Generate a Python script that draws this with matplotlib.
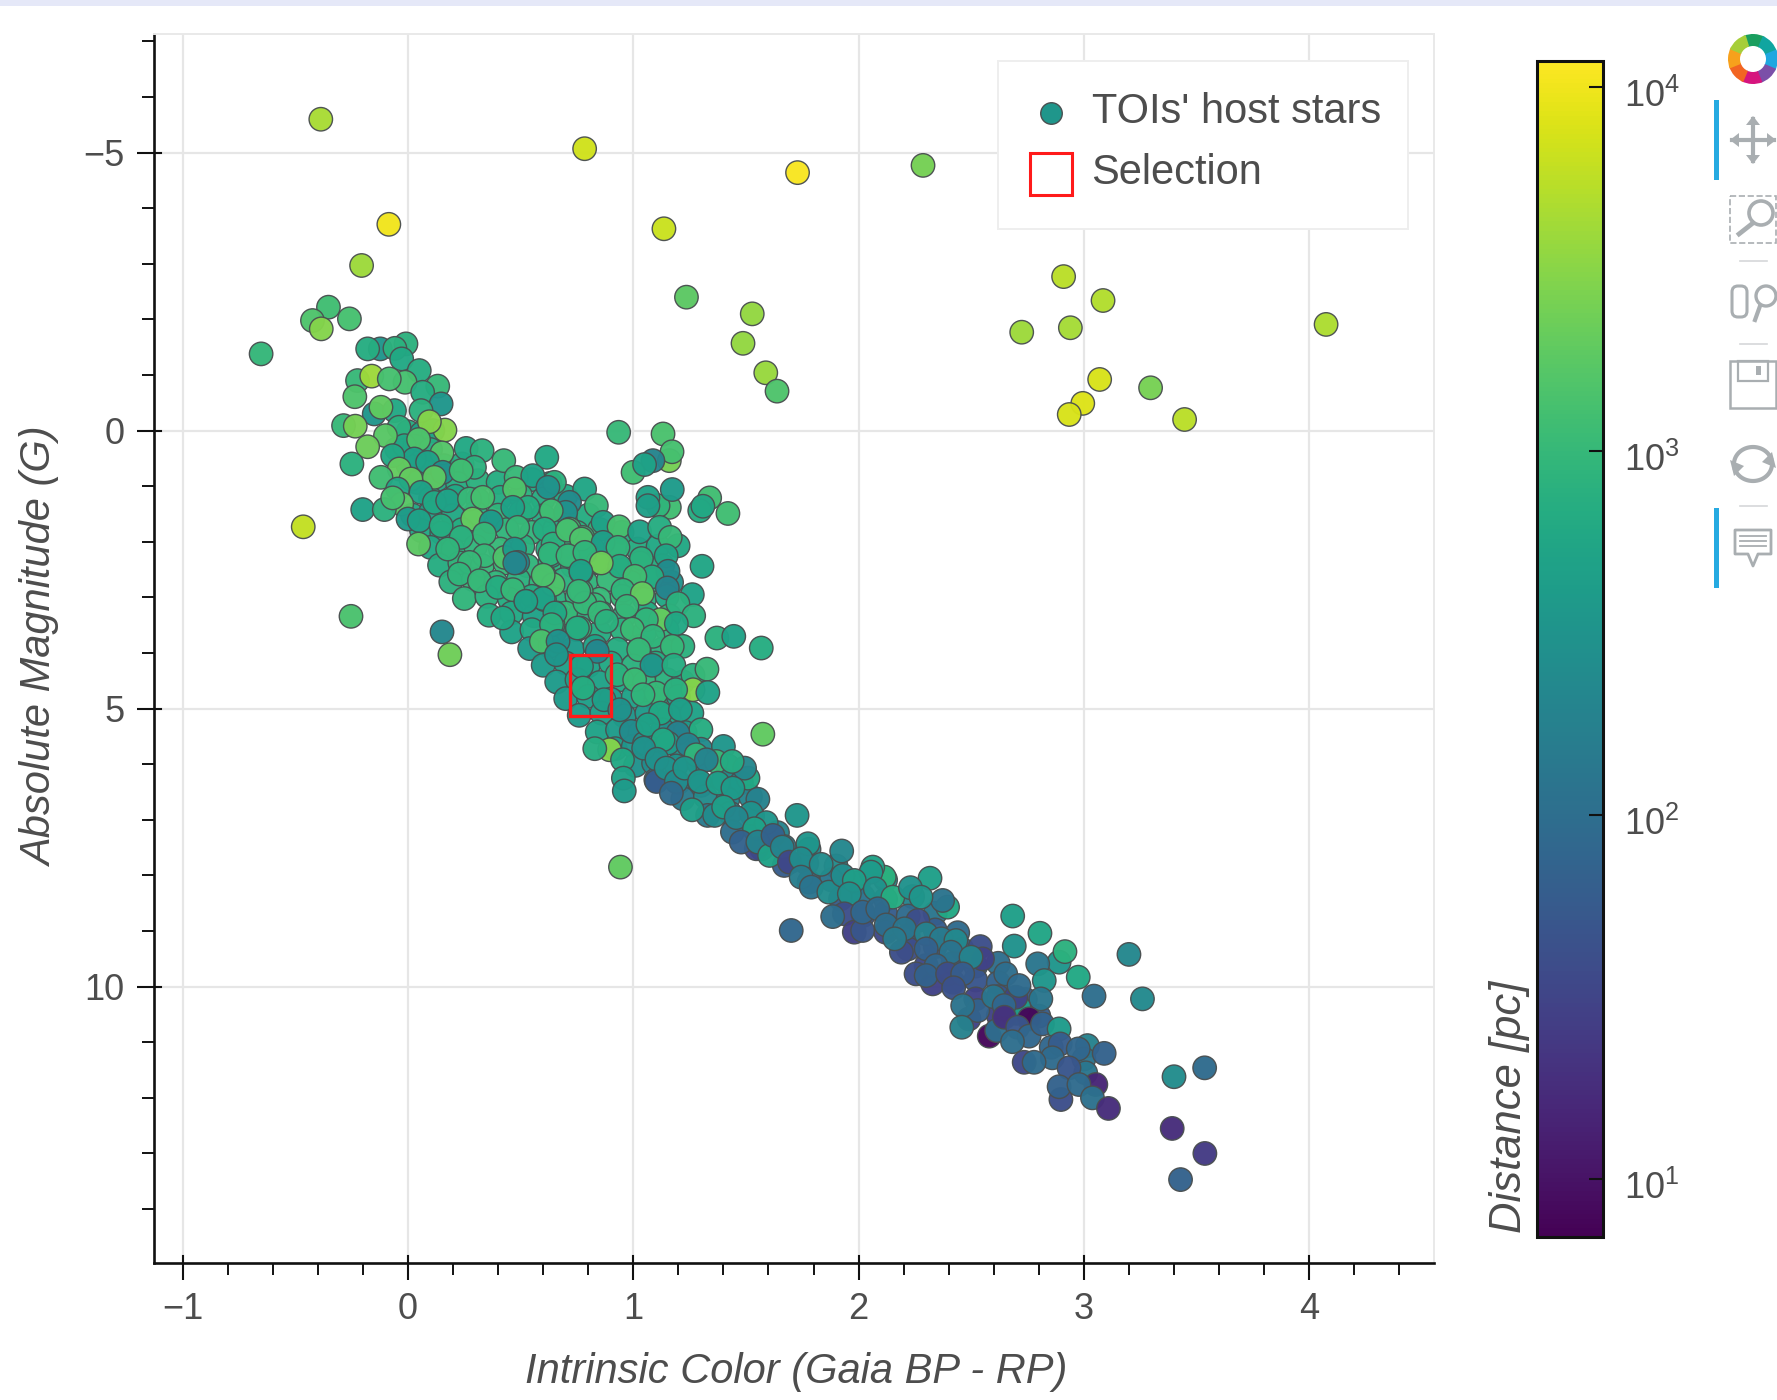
import matplotlib
matplotlib.use("Agg")
import numpy as np
import matplotlib.pyplot as plt
from matplotlib.colors import LogNorm
from matplotlib.lines import Line2D
from matplotlib.patches import Rectangle, Wedge, Circle, Polygon, FancyBboxPatch
from matplotlib.ticker import FixedLocator, NullLocator, FixedFormatter
from matplotlib.transforms import ScaledTranslation

plt.rcParams['font.family'] = ['Liberation Sans', 'DejaVu Sans']
plt.rcParams['mathtext.fontset'] = 'custom'
plt.rcParams['mathtext.rm'] = 'Liberation Sans'
plt.rcParams['mathtext.it'] = 'Liberation Sans:italic'

X_LABEL = "Intrinsic Color (Gaia BP - RP)"
Y_LABEL = "Absolute Magnitude (G)"
CB_LABEL = "Distance [pc]"
SERIES_LABEL = "TOIs' host stars"
SELECTION_LABEL = "Selection"
X_TICKS = [-1, 0, 1, 2, 3, 4]
Y_TICKS = [-5, 0, 5, 10]
CB_TICKS = [10, 100, 1000, 10000]
CB_TICK_LABELS = ['$10^{1}$', '$10^{2}$', '$10^{3}$', '$10^{4}$']
SELECTION_BOX = (0.718, 4.03, 0.90, 5.13)   # color min, mag min, color max, mag max

# (BP-RP colour, absolute G magnitude, distance in pc)
hidden_main_sequence = [
    (0.0,0.02,700),(0.06,0.05,500),(0.11,0.0,600),(-0.05,0.33,600),(0.03,0.28,500),(0.1,0.34,700),
    (0.0,0.62,600),(0.08,0.58,500),(0.16,0.63,600),(0.24,0.6,700),(0.04,0.93,500),(0.13,0.88,600),
    (0.22,0.95,700),(0.31,0.9,800),(0.4,0.93,700),(0.55,0.88,600),(0.63,0.95,500),(0.1,1.22,700),
    (0.21,1.18,600),(0.31,1.24,800),(0.41,1.2,700),(0.5,1.17,800),(0.6,1.23,700),(0.7,1.18,600),
    (0.02,1.52,600),(0.1,1.47,500),(0.2,1.53,600),(0.3,1.48,800),(0.4,1.52,900),(0.5,1.47,800),
    (0.6,1.53,700),(0.7,1.48,600),(0.8,1.52,700),(0.06,1.8,600),(0.15,1.84,500),(0.24,1.78,700),
    (0.34,1.83,800),(0.44,1.78,900),(0.55,1.83,900),(0.65,1.78,700),(0.75,1.83,800),(0.85,1.78,900),
    (0.95,1.83,700),(0.1,2.1,600),(0.2,2.14,800),(0.3,2.08,900),(0.41,2.13,1000),(0.51,2.08,800),
    (0.62,2.13,700),(0.72,2.08,900),(0.82,2.13,800),(0.92,2.08,900),(1.02,2.13,700),(1.11,2.08,600),
    (0.14,2.42,700),(0.23,2.38,900),(0.33,2.43,1000),(0.43,2.38,1000),(0.53,2.43,900),(0.63,2.38,800),
    (0.73,2.43,900),(0.83,2.38,800),(0.93,2.43,900),(1.03,2.38,1000),(1.13,2.43,700),(0.19,2.72,800),
    (0.29,2.68,1000),(0.39,2.73,900),(0.49,2.68,800),(0.59,2.73,900),(0.69,2.68,800),(0.79,2.73,900),
    (0.89,2.68,1000),(0.99,2.73,900),(1.09,2.68,800),(1.17,2.73,300),(0.25,3.02,900),(0.35,2.98,800),
    (0.45,3.03,700),(0.55,2.98,700),(0.65,3.03,800),(0.75,2.98,900),(0.85,3.03,1000),(0.95,2.98,1000),
    (1.05,3.03,800),(1.15,2.98,600),(0.36,3.32,700),(0.46,3.28,600),(0.56,3.33,500),(0.66,3.28,700),
    (0.76,3.33,800),(0.86,3.28,900),(0.96,3.33,800),(1.06,3.28,700),(1.16,3.33,900),(0.46,3.62,500),
    (0.55,3.58,600),(0.65,3.63,500),(0.75,3.58,600),(0.85,3.63,700),(0.95,3.58,800),(1.05,3.63,700),
    (1.15,3.58,900),(0.54,3.92,400),(0.63,3.88,500),(0.73,3.93,400),(0.83,3.88,500),(0.93,3.93,700),
    (1.03,3.88,800),(1.13,3.93,800),(1.22,3.88,800),(0.6,4.22,400),(0.7,4.18,450),(0.8,4.23,500),
    (0.9,4.18,600),(1.0,4.23,800),(1.1,4.18,700),(0.66,4.52,400),(0.75,4.48,450),(0.85,4.53,500),
    (0.95,4.48,600),(1.05,4.53,900),(1.15,4.48,800),(1.22,4.52,600),(0.7,4.82,400),(0.8,4.78,450),
    (0.9,4.83,400),(1.0,4.78,500),(1.1,4.83,700),(1.2,4.78,500),(0.76,5.12,400),(0.86,5.08,450),
    (0.96,5.13,350),(1.06,5.08,400),(1.16,5.13,500),(1.26,5.08,500),(0.84,5.42,500),(0.93,5.38,400),
    (1.03,5.43,300),(1.13,5.38,300),(1.23,5.43,400),(1.3,5.38,700),(0.92,5.72,450),(1.0,5.68,350),
    (1.1,5.73,300),(1.2,5.68,300),(1.3,5.73,250),(1.4,5.68,350),(1.01,6.02,300),(1.09,5.98,250),
    (1.19,6.03,300),(1.29,5.98,250),(1.42,6.03,450),(1.1,6.28,100),(1.2,6.33,200),(1.3,6.38,250),
    (1.4,6.28,250),(1.48,6.33,220),(1.22,6.62,150),(1.32,6.58,250),(1.42,6.63,220),(1.52,6.58,200),
    (1.33,6.92,150),(1.43,6.88,200),(1.53,6.93,180),(1.44,7.22,100),(1.54,7.18,120),(1.64,7.23,200),
    (1.57,7.52,120),(1.67,7.48,150),(1.78,7.53,230),(1.67,7.82,60),(1.77,7.78,120),(1.9,7.83,250),
    (1.78,8.12,80),(1.88,8.08,130),(2.0,8.13,230),(2.12,8.08,300),(1.92,8.42,60),(2.02,8.38,120),
    (2.12,8.43,150),(2.24,8.38,200),(2.02,8.72,40),(2.12,8.68,60),(2.22,8.73,90),(2.34,8.68,130),
    (2.12,9.02,35),(2.22,9.08,50),(2.34,8.98,60),(2.44,9.03,90),(2.22,9.32,40),(2.34,9.28,45),
    (2.46,9.33,60),(2.54,9.28,40),(2.3,9.62,35),(2.42,9.58,50),(2.52,9.63,60),(2.62,9.58,100),
    (2.42,9.92,35),(2.52,9.88,50),(2.62,9.93,70),(2.52,10.22,30),(2.62,10.18,50),(2.74,10.23,60),
    (2.62,10.52,30),(2.7,10.48,40),(2.8,10.53,60),
]

upper_branch = [
    (-0.353,-2.22,1200),(-0.26,-2.01,1300),(-0.424,-1.98,1500),(-0.385,-1.83,3000),(-0.652,-1.38,950),
    (-0.123,-1.47,350),(-0.179,-1.47,700),(-0.009,-1.56,800),(-0.058,-1.48,800),(-0.028,-1.29,600),
    (0.05,-1.08,700),(-0.224,-0.90,1000),(-0.161,-0.98,4000),(-0.013,-0.87,1300),(-0.083,-0.93,1300),
    (0.132,-0.80,1000),(-0.236,-0.61,1500),(0.065,-0.69,700),(0.147,-0.48,350),(-0.15,-0.30,350),
    (-0.06,-0.36,600),(-0.12,-0.42,1900),(0.058,-0.36,800),(-0.286,-0.09,1000),(-0.04,-0.06,800),
    (0.164,-0.01,3000),(0.095,-0.16,3000),(-0.234,-0.08,2500),(-0.016,0.27,600),(-0.10,0.09,1700),
    (-0.179,0.29,2200),(0.047,0.16,1500),(0.151,0.40,1600),(0.258,0.32,600),(0.329,0.36,800),
    (0.425,0.54,1000),(0.616,0.48,600),(-0.249,0.60,800),(0.028,0.51,500),(0.087,0.57,500),
    (-0.068,0.45,600),(-0.039,0.69,2000),(0.154,0.75,300),(-0.12,0.84,1200),(0.295,0.66,800),
    (0.013,0.87,2000),(0.117,0.84,1800),(0.236,0.72,1200),(-0.046,1.05,600),(0.058,1.11,500),
    (-0.201,1.42,500),(-0.028,1.32,1700),(-0.105,1.42,800),(-0.068,1.21,1300),(0.117,1.29,600),
    (0.176,1.26,500),(0.273,1.23,1000),(0.332,1.20,1300),(0.48,0.84,1000),(0.65,0.93,800),
    (0.554,0.81,500),(0.621,1.02,300),(0.473,1.05,1500),(0.784,1.05,550),(0.532,1.38,700),
    (0.465,1.38,500),(0.717,1.29,250),(0.836,1.35,1000),(0.70,1.47,300),(0.636,1.44,1200),
    (0,1.59,400),(0.05,1.62,500),(0.147,1.71,700),(0.287,1.59,2000),(0.369,1.64,400),
    (0.339,1.86,1000),(0.236,1.92,800),(0.047,2.04,1800),
]

middle_cluster = [
    (0.487,1.74,1000),(0.606,1.77,700),(0.717,1.77,1300),(0.776,1.92,1100),(0.176,2.13,900),
    (0.339,2.25,1000),(0.644,2.04,800),(0.636,2.25,650),(0.725,2.25,1000),(0.792,2.19,800),
    (0.43,2.28,1500),(0.473,2.13,400),(0.273,2.37,1000),(0.487,2.37,200),(0.843,2.37,2500),
    (0.228,2.58,900),(0.317,2.70,1000),(0.606,2.61,1500),(0.769,2.55,600),(0.398,2.82,700),
    (0.465,2.86,1000),(0.524,3.07,500),(0.606,3.04,600),(0.769,2.89,1100),(0.827,3.13,1000),
    (0.70,3.28,1000),(0.421,3.37,600),(0.644,3.49,1000),(0.763,3.55,1000),
    (0.935,0.03,1000),(1.16,0.54,2500),(1.132,0.06,1400),(1.172,0.38,1300),(1.087,0.54,200),
    (0.999,0.75,1200),(1.05,0.61,500),(1.16,1.38,1200),(1.11,1.35,900),(1.173,1.06,400),
    (1.065,1.20,500),(1.065,1.35,450),(1.339,1.21,1200),(1.295,1.44,700),(1.309,1.36,600),
    (1.42,1.49,1200),(0.866,1.65,500),(0.937,1.73,1300),(0.708,1.79,1300),(0.77,1.95,1500),
    (0.866,2.01,450),(1.028,1.82,500),(1.117,1.74,700),(1.199,2.07,600),(1.164,1.92,1000),
    (0.932,2.10,900),(0.63,2.22,900),(0.71,2.25,1000),(0.785,2.19,900),(1.036,2.30,800),
    (1.146,2.25,550),(0.94,2.44,700),(0.858,2.38,2200),(1.154,2.53,250),(1.083,2.63,700),
    (1.007,2.62,1200),(1.305,2.44,550),(0.767,2.53,500),(0.644,2.77,1500),(0.6,2.60,1400),
    (0.785,3.10,1000),(0.758,2.89,1000),(1.151,2.83,200),(0.954,2.87,900),(1.04,2.93,2000),
    (0.972,3.16,1000),(1.262,2.95,500),(1.198,3.11,800),(0.474,2.38,220),(0.60,3.02,500),
    (0.523,3.07,500),(0.652,3.28,600),(0.851,3.28,1000),(0.881,3.43,800),(1.121,3.40,2000),
    (1.058,3.40,900),(1.268,3.33,800),(1.191,3.47,600),(0.996,3.57,1100),(0.752,3.55,700),
    (0.637,3.49,800),(1.087,3.70,900),(1.371,3.73,800),(1.446,3.70,500),(1.568,3.91,700),
    (1.173,3.88,1000),(1.024,3.94,1000),(0.592,3.79,1400),(0.84,3.97,220),(0.666,3.79,300),
    (0.659,4.03,350),(0.77,4.24,500),(0.928,4.39,800),(1.083,4.22,350),(1.18,4.22,700),
    (1.265,4.40,800),(1.327,4.29,1000),(1.006,4.48,1100),(1.265,4.66,3000),(0.777,4.63,700),
    (0.87,4.84,450),(1.102,4.72,1000),(1.043,4.75,900),(1.188,4.66,800),(1.331,4.71,500),
    (0.94,5.02,300),(1.121,5.08,600),(1.209,5.02,450),(0.991,5.41,250),(1.198,5.44,180),
    (1.05,5.62,300),(1.154,5.62,400),
]

lower_band = [
    (0.895,5.74,3000),(0.829,5.72,700),(0.952,5.92,600),(1.065,5.29,500),(1.132,5.56,600),
    (1.243,5.65,200),(1.046,5.71,300),(1.105,5.91,300),(1.279,5.83,900),(1.368,5.95,1000),
    (1.324,5.92,200),(1.509,6.25,600),(1.494,6.07,220),(1.439,5.95,650),(0.956,6.25,500),
    (0.96,6.48,400),(1.103,6.31,60),(1.146,6.07,300),(1.191,6.31,250),(1.228,6.07,350),
    (1.294,6.31,350),(1.169,6.52,90),(1.376,6.34,450),(1.442,6.43,400),(1.553,6.63,180),
    (1.261,6.82,450),(1.361,6.92,250),(1.401,6.77,450),(1.523,6.88,300),(1.457,6.96,220),
    (1.59,7.05,350),(1.538,7.16,500),(0.943,7.85,1900),(1.727,6.92,350),(1.546,7.52,35),
    (1.479,7.40,70),(1.553,7.40,180),(1.605,7.64,500),(1.62,7.28,70),(1.661,7.49,200),
    (1.925,7.56,220),(1.693,7.76,35),(1.775,7.43,350),(1.745,7.70,250),(1.834,7.80,250),
    (1.745,8.03,160),(1.79,8.21,120),(1.868,8.30,250),(2.114,8.03,800),(2.063,7.85,500),
    (2.055,7.94,400),(1.93,8.0,250),(1.981,8.09,450),(1.959,8.33,300),(2.074,8.24,300),
    (2.152,8.39,700),(2.395,8.57,600),(2.373,8.45,120),(2.317,8.05,450),(2.23,8.22,300),
    (2.277,8.39,350),(1.937,8.69,40),(1.885,8.74,100),(1.701,8.99,80),(1.981,9.02,28),
    (2.018,8.99,50),(2.018,8.66,80),(2.085,8.60,90),(2.122,8.89,100),
]

faint_tail = [
    (2.19,9.38,40),(2.263,8.81,40),(2.204,8.96,130),(2.16,9.14,150),(2.30,9.05,180),(2.367,9.14,150),
    (2.30,9.32,70),(2.255,9.77,40),(2.329,9.95,30),(2.55,9.50,30),(2.432,9.17,230),(2.41,9.38,120),
    (2.499,9.47,200),(2.344,9.62,80),(2.30,9.80,70),(2.395,9.77,40),(2.462,9.77,60),(2.422,10.02,45),
    (2.684,8.73,450),(2.805,9.04,550),(2.89,9.56,350),(2.916,9.37,800),
    (2.691,9.27,300),(2.795,9.59,130),(2.975,9.83,600),(2.824,9.89,350),(3.045,10.17,100),
    (3.2,9.42,220),(3.26,10.22,230),(2.809,10.22,130),(2.712,10.37,450),(2.698,10.19,30),
    (2.49,10.58,30),(2.529,10.43,70),(2.462,10.34,120),(2.599,10.18,130),(2.653,9.77,100),
    (2.712,9.98,90),(2.646,10.34,80),(2.458,10.73,180),(2.58,10.89,8),(2.613,10.79,100),
    (2.647,10.55,20),(2.757,10.58,8),(2.706,10.73,50),(2.757,10.89,80),(2.816,10.67,70),
    (2.683,10.99,100),(2.89,10.76,400),(3.016,11.06,180),(2.855,11.09,80),(2.895,11.03,60),
    (2.86,11.28,90),(3.0,11.3,120),(2.975,11.12,80),(3.09,11.2,70),(2.735,11.36,35),
    (2.779,11.36,90),(3.008,11.55,130),(2.934,11.46,50),(3.053,11.76,15),(2.898,12.03,40),
    (2.89,11.8,70),(2.978,11.76,90),(3.038,12.0,110),(3.109,12.19,18),(3.40,11.62,250),
    (3.536,11.46,90),(3.392,12.55,18),(3.537,13.0,25),(3.429,13.47,70),
]

isolated_stars = [
    (-0.387,-5.60,4500),(0.784,-5.07,7000),(1.729,-4.64,11000),(2.286,-4.77,2500),(-0.085,-3.71,10000),
    (1.136,-3.63,6500),(-0.206,-2.97,4000),(1.236,-2.40,1800),(1.528,-2.10,3500),(1.487,-1.57,3500),
    (1.588,-1.04,3800),(1.638,-0.71,1500),(2.91,-2.77,5500),(3.085,-2.34,5000),(2.724,-1.77,4000),
    (2.94,-1.85,4300),(4.075,-1.91,4800),(3.07,-0.92,7500),(3.296,-0.77,2600),(2.995,-0.49,8000),
    (2.935,-0.29,7500),(3.447,-0.20,5500),(-0.465,1.73,6000),(-0.253,3.34,1400),(0.151,3.62,220),
    (0.186,4.03,2300),(1.575,5.46,1900),
]

stars = hidden_main_sequence + upper_branch + middle_cluster + lower_band + faint_tail + isolated_stars
bp_rp, abs_g, distance = map(np.array, zip(*stars))

W, H = 1777, 1400
fig = plt.figure(figsize=(W / 100, H / 100), dpi=100, facecolor='white')


def frac(left, top, right, bottom):
    return [left / W, 1 - bottom / H, (right - left) / W, (bottom - top) / H]


TEXT = '#4d4d4d'
ax = fig.add_axes(frac(153.5, 34, 1434, 1263))
ax.set_xlim(-1.1296, 4.554)
ax.set_ylim(14.97, -7.133)
norm = LogNorm(6.92, 11826)
sc = ax.scatter(bp_rp, abs_g, c=distance, cmap='viridis', norm=norm, s=285,
                edgecolors='#4a4f50', linewidths=1.0, alpha=0.97, zorder=3)

x0, y0, x1, y1 = SELECTION_BOX
ax.add_patch(Rectangle((x0, y0), x1 - x0, y1 - y0, fill=False, ec='#ff1a1a', lw=2.4, zorder=4))

ax.grid(True, which='major', color='#e6e6e6', lw=1.6, zorder=0)
ax.set_axisbelow(True)
ax.xaxis.set_major_locator(FixedLocator(X_TICKS))
ax.xaxis.set_minor_locator(FixedLocator([v / 5 for v in range(-5, 23)]))
ax.yaxis.set_major_locator(FixedLocator(Y_TICKS))
ax.yaxis.set_minor_locator(FixedLocator(list(range(-7, 15))))
ax.set_xticklabels([str(v).replace('-', '\u2212') for v in X_TICKS])
ax.set_yticklabels([str(v).replace('-', '\u2212') for v in Y_TICKS])
ax.tick_params(which='major', length=12, width=1.5, color='#111111', labelsize=26,
               labelcolor=TEXT, pad=9)
ax.tick_params(which='minor', length=8.6, width=1.4, color='#111111')
for s in ('left', 'bottom'):
    ax.spines[s].set_linewidth(1.9)
    ax.spines[s].set_color('#111111')
for s in ('top', 'right'):
    ax.spines[s].set_linewidth(1.4)
    ax.spines[s].set_color('#e9e9e9')
# the major ticks also reach a little way into the frame
in_x, in_y = 7 / 1229, 7 / 1280.5
for v in X_TICKS:
    ax.add_line(Line2D([v, v], [0, in_x], transform=ax.get_xaxis_transform(),
                       color='#111111', lw=1.5, zorder=2.5))
for v in Y_TICKS:
    ax.add_line(Line2D([0, in_y], [v, v], transform=ax.get_yaxis_transform(),
                       color='#111111', lw=1.5, zorder=2.5))

handles = [
    Line2D([], [], ls='none', marker='o', ms=15.5, mfc='#1f968b', mec='#4a4f50', mew=1.0),
    Line2D([], [], ls='none', marker='s', ms=30, mfc='none', mec='#ff1a1a', mew=2.2),
]
ax.add_patch(Rectangle((998 / W, 1 - 229 / H), 410 / W, 168.3 / H, transform=fig.transFigure,
                       fc='white', ec='#eeeeee', lw=1.4, zorder=4.5, clip_on=False))
leg = ax.legend(handles, [SERIES_LABEL, SELECTION_LABEL], loc='upper left',
                bbox_to_anchor=(996.5 / W, 1 - 63 / H), bbox_transform=fig.transFigure,
                fontsize=30, labelcolor=TEXT, frameon=False, borderpad=0.7, labelspacing=0.5,
                handletextpad=0.38, handlelength=1.2, borderaxespad=0)
leg.set_zorder(5)
for h in leg.legend_handles:
    h.set_ydata(np.asarray(h.get_ydata()) - 3.5)

fig.text(796 / W, 1 - 1372 / H, X_LABEL, style='italic', fontsize=30, color=TEXT,
         ha='center', va='center')
fig.text(41.5 / W, 1 - 647 / H, Y_LABEL, style='italic', fontsize=30, color=TEXT,
         ha='center', va='center', rotation=90)
fig.text(1509.5 / W, 1 - 1107 / H, CB_LABEL, style='italic', fontsize=31.4, color=TEXT,
         ha='center', va='center', rotation=90)

cax = fig.add_axes(frac(1536.5, 60.5, 1603, 1237.3))
cb = fig.colorbar(sc, cax=cax)
cb.solids.set_alpha(1)
cax.yaxis.set_major_locator(FixedLocator(CB_TICKS))
cax.yaxis.set_major_formatter(FixedFormatter(CB_TICK_LABELS))
cax.yaxis.set_minor_locator(NullLocator())
cax.tick_params(which='major', direction='in', length=10, width=1.5, color='#111111',
                labelsize=26, labelcolor=TEXT, pad=15)
cb.outline.set_linewidth(2.2)
cb.outline.set_edgecolor('#111111')
fig.canvas.draw()
label_shift = ScaledTranslation(0, -5.5 / 100, fig.dpi_scale_trans)
for lab in cax.get_yticklabels():
    lab.set_transform(lab.get_transform() + label_shift)

# page chrome: top band and the toolbar on the right
ov = fig.add_axes([0, 0, 1, 1], zorder=10)
ov.set_xlim(0, W)
ov.set_ylim(H, 0)
ov.axis('off')
ov.patch.set_alpha(0)
ov.add_patch(Rectangle((0, 0), W, 6, fc='#e5e8f8', ec='none'))
logo = ['#1a9e5f', '#10a5a0', '#1ea7e0', '#7b4fa8', '#d6147e', '#f26522', '#f7a11c', '#a6ce39']
for i, c in enumerate(logo):
    ov.add_patch(Wedge((1753, 59), 25, i * 45 - 112, i * 45 - 62, width=12, fc=c, ec='none'))
GREY = '#a9aeb1'
for top, bottom in ((100, 180), (508, 588)):
    ov.add_patch(Rectangle((1713.5, top), 5, bottom - top, fc='#26aae1', ec='none'))
for y in (261, 344, 506):
    ov.add_line(Line2D([1740, 1767], [y, y], color='#d5d7d9', lw=1.2))
# pan
ov.add_line(Line2D([1732, 1774], [140, 140], color=GREY, lw=3))
ov.add_line(Line2D([1753, 1753], [119, 161], color=GREY, lw=3))
for pts in ([(1730, 140), (1739, 133), (1739, 147)], [(1776, 140), (1767, 133), (1767, 147)],
            [(1753, 116), (1746, 125), (1760, 125)], [(1753, 164), (1746, 155), (1760, 155)]):
    ov.add_patch(Polygon(pts, fc=GREY, ec='none'))
# box zoom
ov.add_patch(Rectangle((1730, 196), 46, 47, fill=False, ec=GREY, lw=1.2, ls='--'))
ov.add_patch(Circle((1761, 213), 12, fill=False, ec=GREY, lw=2.6))
ov.add_line(Line2D([1753, 1739], [223, 234], color=GREY, lw=3.4))
# wheel zoom
ov.add_patch(FancyBboxPatch((1735, 289), 9, 25, boxstyle='round,pad=3,rounding_size=6',
                            fill=False, ec=GREY, lw=2.2))
ov.add_patch(Circle((1766, 296), 10, fill=False, ec=GREY, lw=2.4))
ov.add_line(Line2D([1760, 1755], [306, 320], color=GREY, lw=3))
# save
ov.add_patch(Rectangle((1730, 361), 46, 47, fill=False, ec=GREY, lw=1.8))
ov.add_patch(Rectangle((1738, 361), 30, 20, fill=False, ec=GREY, lw=1.6))
ov.add_patch(Rectangle((1756, 366), 5, 9, fc=GREY, ec='none'))
# reset
for t0, t1 in ((20, 170), (200, 350)):
    tt = np.radians(np.linspace(t0, t1, 30))
    ov.add_line(Line2D(1753 + 19 * np.cos(tt), 464 - 17 * np.sin(tt), color=GREY, lw=3))
ov.add_patch(Polygon([(1776, 468), (1762, 462), (1772, 452)], fc=GREY, ec='none'))
ov.add_patch(Polygon([(1730, 460), (1744, 466), (1734, 476)], fc=GREY, ec='none'))
# hover
ov.add_patch(Polygon([(1735, 530), (1771, 530), (1771, 554), (1758, 554), (1753, 566), (1748, 554),
                      (1735, 554)], fill=False, ec=GREY, lw=2, joinstyle='round'))
for y in (536, 541, 546):
    ov.add_line(Line2D([1740, 1766], [y, y], color=GREY, lw=1.3))

fig.savefig('out.png', dpi=100, facecolor='white')
